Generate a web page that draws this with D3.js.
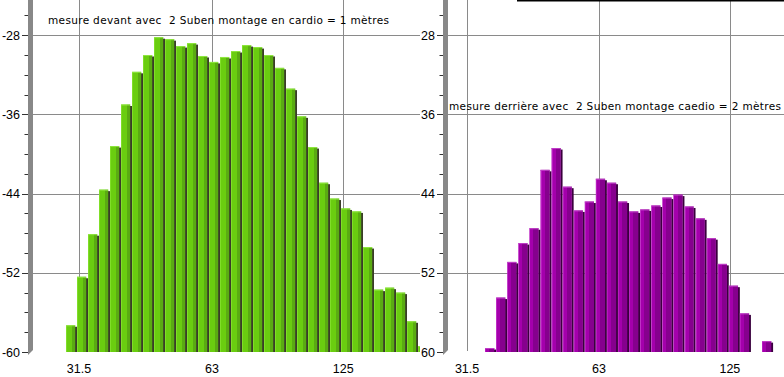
<!DOCTYPE html>
<html>
<head>
<meta charset="utf-8">
<script src="https://cdn.jsdelivr.net/npm/d3@7"></script>
<style>
  body { margin: 0; background: #fff; }
  svg { display: block; }
</style>
</head>
<body>
<div id="chart"></div>
<script>
// values, one bar per 1/12 octave
const leftValues = [-57.3, -52.4, -48.1, -43.6, -39.2, -35.0, -31.7, -30.0, -28.2, -28.4,
  -29.1, -28.8, -30.1, -30.7, -30.2, -29.6, -29.0, -29.2, -30.0, -31.3,
  -33.4, -36.2, -39.3, -42.9, -44.5, -45.5, -45.8, -49.4, -53.7, -53.5,
  -54.0, -56.9, -59.4];
const rightValues = [59.6, 54.5, 50.9, 49.0, 47.5, 41.6, 39.4, 43.3, 45.7, 44.8,
  42.5, 42.9, 44.8, 45.8, 45.6, 45.2, 44.4, 44.1, 45.3, 46.5,
  48.5, 51.1, 53.3, 56.1, null, 58.9];

const leftTicks = [-28, -36, -44, -52, -60];
const rightTicks = [28, 36, 44, 52, 60];
const freqLabels = ["31.5", "63", "125"];
// where the frequency labels fall, in bar units
const leftFreqBins = [1.18, 13.27, 25.2];
const rightFreqBins = [-1.62, 10.29, 22.1];

const leftTitle = "mesure devant avec  2 Suben montage en cardio = 1 mètres";
const rightTitle = "mesure derrière avec  2 Suben montage caedio = 2 mètres";

const w = 784;
const h = 377;
const base = 352;

const svg = d3.select("#chart").append("svg")
  .attr("width", w)
  .attr("height", h);

svg.append("rect").attr("width", w).attr("height", h).attr("fill", "#fff");

const defs = svg.append("defs");

function hardGradient(id, stops) {
  const g = defs.append("linearGradient").attr("id", id)
    .attr("x1", 0).attr("x2", 1).attr("y1", 0).attr("y2", 0);
  stops.forEach(s => {
    g.append("stop").attr("offset", s[0]).attr("stop-color", s[2]);
    g.append("stop").attr("offset", s[1]).attr("stop-color", s[2]);
  });
}
hardGradient("greenFace", [[0, 0.12, "#80de28"], [0.12, 0.68, "#6acd10"], [0.68, 1, "#5aab12"]]);
hardGradient("purpleFace", [[0, 0.12, "#b81cc0"], [0.12, 0.45, "#a400ac"], [0.45, 1, "#86008e"]]);

defs.append("clipPath").attr("id", "leftClip")
  .append("rect").attr("x", 0).attr("y", 0).attr("width", 420).attr("height", h);

function drawPanel(g, opt) {
  const y = d3.scaleLinear().domain(opt.yDomain).range([base, 35.2]);
  const x = d3.scaleLinear().domain([0, 1]).range([opt.x0, opt.x0 + opt.step]);

  // grid
  g.selectAll("line.hgrid")
    .data(opt.ticks.slice(0, 4))
    .join("line")
      .attr("class", "hgrid")
      .attr("x1", opt.axisX + 5).attr("x2", opt.right)
      .attr("y1", d => Math.round(y(d)) + 0.5).attr("y2", d => Math.round(y(d)) + 0.5)
      .attr("stroke", "#8a8a8a");

  g.selectAll("line.vgrid")
    .data(opt.freqBins)
    .join("line")
      .attr("class", "vgrid")
      .attr("x1", d => Math.round(x(d)) + 0.5).attr("x2", d => Math.round(x(d)) + 0.5)
      .attr("y1", 0).attr("y2", base - 1)
      .attr("stroke", "#8a8a8a");

  // bars: dark side, face, lit top
  const bars = g.selectAll("g.bar")
    .data(opt.values.map((v, i) => ({ v, i })).filter(d => d.v !== null))
    .join("g")
      .attr("class", "bar");

  const faceW = opt.step - 1.8;

  bars.append("rect")
    .attr("x", d => x(d.i) + faceW - 0.3)
    .attr("y", d => y(d.v) + 1.5)
    .attr("width", opt.step - faceW + 0.3)
    .attr("height", d => base - y(d.v) - 1.5)
    .attr("fill", opt.edge);

  bars.append("rect")
    .attr("x", d => x(d.i))
    .attr("y", d => y(d.v))
    .attr("width", faceW)
    .attr("height", d => base - y(d.v))
    .attr("fill", opt.face);

  bars.append("rect")
    .attr("x", d => x(d.i))
    .attr("y", d => y(d.v))
    .attr("width", faceW)
    .attr("height", 1)
    .attr("fill", opt.top);

  // thick grey axis with the little 3d foot
  g.append("path")
    .attr("d", `M${opt.axisX},0 H${opt.axisX + 5} V${base - 2} L${opt.axisX},${base + 3} Z`)
    .attr("fill", "#888");

  const up = opt.yDomain[1] > opt.yDomain[0] ? 1 : -1;
  const minor = d3.range(opt.yDomain[0], opt.yDomain[1] + up * 4.1, up * 2);
  g.selectAll("line.minor")
    .data(minor.filter(d => y(d) >= 0))
    .join("line")
      .attr("class", "minor")
      .attr("x1", d => opt.ticks.includes(d) ? opt.axisX - 6 : opt.axisX - 3.5)
      .attr("x2", opt.axisX)
      .attr("y1", d => Math.round(y(d)) + 0.5).attr("y2", d => Math.round(y(d)) + 0.5)
      .attr("stroke", "#333");

  g.selectAll("text.ylab")
    .data(opt.ticks)
    .join("text")
      .attr("class", "ylab")
      .attr("x", opt.axisX - 8)
      .attr("y", d => y(d) + 4.5)
      .attr("text-anchor", "end")
      .style("font-family", "'Liberation Sans', Arial, sans-serif")
      .style("font-size", "12.5px")
      .text(d => d);

  g.selectAll("text.xlab")
    .data(opt.freqBins)
    .join("text")
      .attr("class", "xlab")
      .attr("x", d => x(d))
      .attr("y", 373)
      .attr("text-anchor", "middle")
      .style("font-family", "'Liberation Sans', Arial, sans-serif")
      .style("font-size", "12.5px")
      .text((d, i) => freqLabels[i]);

  g.append("text")
    .attr("x", opt.titleX)
    .attr("y", opt.titleY)
    .attr("textLength", opt.titleW)
    .attr("lengthAdjust", "spacing")
    .style("white-space", "pre")
    .style("font-family", "'DejaVu Sans', Verdana, sans-serif")
    .style("font-size", "10.5px")
    .text(opt.title);
}

// left chart, clipped where the second window sits on top of it
drawPanel(svg.append("g").attr("clip-path", "url(#leftClip)"), {
  values: leftValues,
  yDomain: [-60, -28],
  ticks: leftTicks,
  freqBins: leftFreqBins,
  x0: 66, step: 11.0,
  axisX: 28, right: 420,
  face: "url(#greenFace)", edge: "#3a3d28", top: "#8fe640",
  title: leftTitle, titleX: 48, titleY: 24, titleW: 341
});

// right chart
const rightG = svg.append("g");
rightG.append("rect").attr("x", 420).attr("y", 0).attr("width", w - 420).attr("height", h).attr("fill", "#fff");

drawPanel(rightG, {
  values: rightValues,
  yDomain: [60, 28],
  ticks: rightTicks,
  freqBins: rightFreqBins,
  x0: 485, step: 11.08,
  axisX: 443, right: w,
  face: "url(#purpleFace)", edge: "#3a003e", top: "#c040c8",
  title: rightTitle, titleX: 449, titleY: 110, titleW: 332
});

rightG.append("line")
  .attr("x1", 517).attr("x2", w)
  .attr("y1", 0.75).attr("y2", 0.75)
  .attr("stroke", "#000").attr("stroke-width", 1.5);
</script>
</body>
</html>
